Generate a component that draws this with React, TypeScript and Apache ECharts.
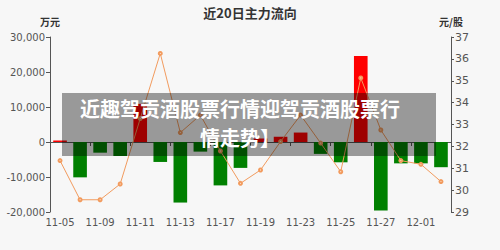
import React, { useEffect, useRef } from "react";
import * as echarts from "echarts";

const titleText = "近20日主力流向";
const leftAxisName = "万元";
const rightAxisName = "元/股";
const overlayLines = ["近趣驾贡酒股票行情迎驾贡酒股票行", "情走势】"];

const dates = [
  "11-05", "11-06", "11-09", "11-10", "11-11", "11-12", "11-13", "11-16", "11-17", "11-18",
  "11-19", "11-20", "11-23", "11-24", "11-25", "11-26", "11-27", "11-30", "12-01", "12-02",
];

// 主力净流入 (万元)
const flowValues = [
  450, -10100, -3050, -4000, 10900, -5700, -17300, -2750, -12400, -7400,
  1000, 1500, 2700, -3400, -5800, 24600, -19600, -6100, -6100, -7200,
];

// 股价 (元/股)
const priceValues = [
  31.35, 29.56, 29.56, 30.28, 33.27, 36.25, 32.63, 33.43, 31.79, 30.31,
  30.92, 32.22, 33.43, 32.15, 30.84, 35.13, 32.75, 31.35, 31.18, 30.39,
];

const leftTicks = { min: -20000, max: 30000, interval: 10000 };
const rightTicks = { min: 29, max: 37, interval: 1 };

export default function App() {
  const ref = useRef<HTMLDivElement>(null);

  useEffect(() => {
    if (!ref.current) return;
    const chart = echarts.init(ref.current, null, { renderer: "svg" });
    const axisFont = { fontFamily: "DejaVu Sans", fontSize: 10, color: "#555" };
    const cjkFont = "'Noto Sans CJK SC', sans-serif";

    chart.setOption({
      animation: false,
      backgroundColor: "#f7f7f7",
      title: {
        text: titleText,
        left: "center",
        top: 1,
        textStyle: { fontFamily: cjkFont, fontSize: 13, fontWeight: "bold", color: "#333" },
      },
      grid: { left: 50, right: 49, top: 37, bottom: 38, containLabel: false },
      xAxis: [
        {
          type: "category",
          data: dates,
          position: "bottom",
          axisLine: { show: false, onZero: false },
          axisTick: { show: false },
          axisLabel: { ...axisFont, interval: 1, margin: 5 },
          splitLine: { show: false },
        },
        {
          type: "category",
          data: dates,
          position: "top",
          axisLine: { show: true, onZero: true, onZeroAxisIndex: 0, lineStyle: { color: "#555", width: 1 } },
          axisTick: { show: true, inside: true, interval: 1, length: 4, lineStyle: { color: "#555" } },
          axisLabel: { show: false },
          splitLine: { show: false },
        },
      ],
      yAxis: [
        {
          type: "value",
          ...leftTicks,
          name: leftAxisName,
          nameLocation: "end",
          nameGap: 11,
          nameTextStyle: { fontFamily: cjkFont, fontSize: 10, fontWeight: "bold", color: "#333", align: "center" },
          axisLine: { show: true, lineStyle: { color: "#555" } },
          axisTick: { show: true, length: 4, lineStyle: { color: "#555" } },
          axisLabel: { ...axisFont, margin: 5 },
          splitLine: { show: false },
        },
        {
          type: "value",
          position: "right",
          ...rightTicks,
          name: rightAxisName,
          nameLocation: "end",
          nameGap: 11,
          nameTextStyle: { fontFamily: cjkFont, fontSize: 10, fontWeight: "bold", color: "#333", align: "center" },
          axisLine: { show: true, lineStyle: { color: "#555" } },
          axisTick: { show: true, length: 3, lineStyle: { color: "#555" } },
          axisLabel: { ...axisFont, fontSize: 11, margin: 4 },
          splitLine: { show: false },
        },
      ],
      series: [
        {
          type: "bar",
          xAxisIndex: 0,
          yAxisIndex: 0,
          barWidth: "68%",
          data: flowValues.map((v) => ({
            value: v,
            itemStyle: { color: v >= 0 ? "#ff0000" : "#008000" },
          })),
          z: 2,
        },
        {
          type: "line",
          xAxisIndex: 0,
          yAxisIndex: 1,
          data: priceValues,
          symbol: "emptyCircle",
          symbolSize: 3,
          lineStyle: { color: "#f29b5e", width: 1 },
          itemStyle: { color: "#f29b5e" },
          z: 3,
        },
      ],
      graphic: [
        {
          type: "rect",
          z: 100,
          shape: { x: 62, y: 93, width: 374, height: 63 },
          style: { fill: "rgba(0,0,0,0.38)" },
        },
        ...overlayLines.map((line, i) => ({
          type: "text",
          z: 101,
          x: 240,
          y: 108 + i * 29,
          style: {
            text: line,
            fill: "#ffffff",
            font: "bold 20px 'Noto Sans CJK SC', sans-serif",
            lineHeight: 20,
            textAlign: "center",
            textVerticalAlign: "middle",
          },
        })),
      ],
    });

    return () => chart.dispose();
  }, []);

  return (
    <div
      ref={ref}
      style={{ position: "fixed", left: 0, top: 0, width: 500, height: 250 }}
    />
  );
}
